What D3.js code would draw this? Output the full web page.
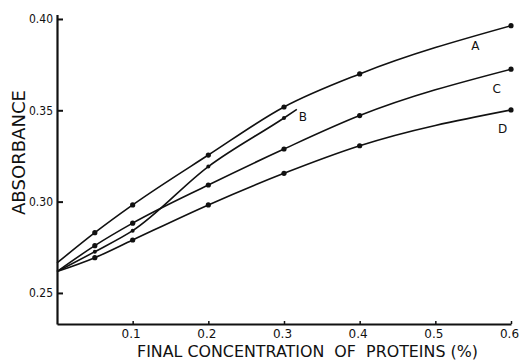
<!DOCTYPE html>
<html>
<head>
<meta charset="utf-8">
<script src="https://cdn.jsdelivr.net/npm/d3@7"></script>
<style>
  body { margin: 0; background: #fff; }
  text { font-family: "DejaVu Sans", "Liberation Sans", sans-serif; fill: #111; }
</style>
</head>
<body>
<div id="chart"></div>
<script>
// concentration (%) — first value is the intercept, no marker drawn there
const concA = [0, 0.05, 0.1, 0.2, 0.3, 0.4, 0.6];
const absA  = [0.2664, 0.2830, 0.2982, 0.3255, 0.3518, 0.3699, 0.3963];

const concB = [0, 0.05, 0.1, 0.2, 0.3, 0.317];
const absB  = [0.2617, 0.2726, 0.2841, 0.3192, 0.3458, 0.3505];

const concC = [0, 0.05, 0.1, 0.2, 0.3, 0.4, 0.6];
const absC  = [0.2617, 0.2759, 0.2882, 0.3091, 0.3288, 0.3471, 0.3725];

const concD = [0, 0.05, 0.1, 0.2, 0.3, 0.4, 0.6];
const absD  = [0.2617, 0.2693, 0.2790, 0.2982, 0.3155, 0.3306, 0.3502];

const measured = [0.05, 0.1, 0.2, 0.3, 0.4, 0.6];
const seriesNames = ["A", "B", "C", "D"];

const xTicks = [0.1, 0.2, 0.3, 0.4, 0.5, 0.6];
const yTicks = [0.25, 0.30, 0.35, 0.40];

const W = 519, H = 361;

const svg = d3.select("#chart")
  .append("svg")
  .attr("width", W)
  .attr("height", H);

const x = d3.scaleLinear().domain([0, 0.6]).range([57, 511]);
const y = d3.scaleLinear().domain([0.233, 0.4025]).range([324, 14.4]);

const series = [
  { name: "A", xs: concA, ys: absA, lx: 0.553, ly: 0.3850 },
  { name: "B", xs: concB, ys: absB, lx: 0.325, ly: 0.3460 },
  { name: "C", xs: concC, ys: absC, lx: 0.581, ly: 0.3615 },
  { name: "D", xs: concD, ys: absD, lx: 0.589, ly: 0.3395 }
];

const line = d3.line()
  .x(d => x(d[0]))
  .y(d => y(d[1]))
  .curve(d3.curveMonotoneX);

series.forEach((s, i) => {
  const pts = s.xs.map((v, j) => [v, s.ys[j]]);
  svg.append("path")
    .attr("d", line(pts))
    .attr("fill", "none")
    .attr("stroke", "#111")
    .attr("stroke-width", 1.6);

  svg.selectAll(".pt" + i)
    .data(pts.filter(p => measured.includes(p[0])))
    .join("circle")
    .attr("cx", d => x(d[0]))
    .attr("cy", d => y(d[1]))
    .attr("r", s.name === "B" ? 2 : 2.6)
    .attr("fill", "#111");

  svg.append("text")
    .attr("x", x(s.lx))
    .attr("y", y(s.ly))
    .attr("text-anchor", "middle")
    .attr("dominant-baseline", "middle")
    .style("font-size", "12px")
    .text(seriesNames[i]);
});

// Y axis
const yAxis = svg.append("g")
  .attr("transform", `translate(${x(0)},0)`)
  .call(d3.axisLeft(y)
    .tickValues(yTicks)
    .tickFormat(d3.format(".2f"))
    .tickSizeInner(-6)
    .tickSizeOuter(0)
    .tickPadding(4));
yAxis.select(".domain").attr("stroke-width", 2.2).attr("stroke", "#111");
yAxis.selectAll(".tick line").attr("stroke-width", 2).attr("stroke", "#111");
yAxis.selectAll("text")
  .style("font-size", "12px")
  .attr("fill", "#111")
  .attr("textLength", 24)
  .attr("lengthAdjust", "spacingAndGlyphs");

// X axis
const xAxis = svg.append("g")
  .attr("transform", `translate(0,${y(0.233)})`)
  .call(d3.axisBottom(x)
    .tickValues(xTicks)
    .tickFormat(d3.format(".1f"))
    .tickSizeInner(-3)
    .tickSizeOuter(0)
    .tickPadding(5));
xAxis.select(".domain").attr("stroke-width", 2.2).attr("stroke", "#111");
xAxis.selectAll(".tick line").attr("stroke-width", 1.5).attr("stroke", "#111");
xAxis.selectAll("text")
  .style("font-size", "12px")
  .attr("fill", "#111")
  .attr("dx", -2);

// X label (keeps the wide gaps between words)
svg.append("text")
  .attr("x", 137)
  .attr("y", 357)
  .attr("textLength", 341)
  .attr("lengthAdjust", "spacingAndGlyphs")
  .style("font-size", "15px")
  .style("white-space", "pre")
  .text("FINAL CONCENTRATION  OF  PROTEINS (%)");

// Y label
svg.append("text")
  .attr("transform", "rotate(-90)")
  .attr("x", -215)
  .attr("y", 25)
  .attr("textLength", 125)
  .attr("lengthAdjust", "spacingAndGlyphs")
  .style("font-size", "17px")
  .text("ABSORBANCE");
</script>
</body>
</html>
